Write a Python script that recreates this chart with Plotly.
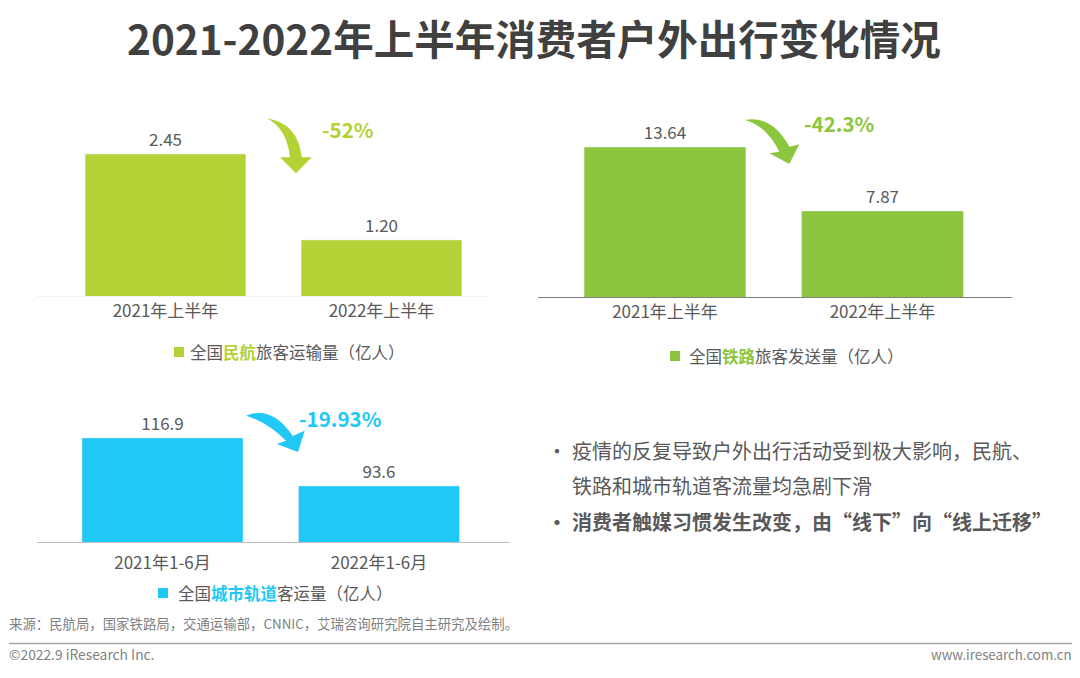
import plotly.graph_objects as go

W = 1080
H = 678
FONT = "Noto Sans CJK SC"
GREY = "#595959"

air_labels = ["2021年上半年", "2022年上半年"]
air_values = [2.45, 1.20]
rail_labels = ["2021年上半年", "2022年上半年"]
rail_values = [13.64, 7.87]
metro_labels = ["2021年1-6月", "2022年1-6月"]
metro_values = [116.9, 93.6]

air_color = "#B2D235"
rail_color = "#8CC63F"
metro_color = "#1FC8F5"

air_name = "全国<b><span style='color:#B2D235'>民航</span></b>旅客运输量（亿人）"
rail_name = "全国<b><span style='color:#8CC63F'>铁路</span></b>旅客发送量（亿人）"
metro_name = "全国<b><span style='color:#1FC8F5'>城市轨道</span></b>客运量（亿人）"


def px(x):
    return x / W


def py(y):
    return 1 - y / H


def arrow(p, color):
    # p = start, outer ctrl, outer end, head right, tip, head left, inner start, inner ctrl
    s = [f"{px(a)},{py(b)}" for a, b in p]
    path = f"M {s[0]} Q {s[1]} {s[2]} L {s[3]} L {s[4]} L {s[5]} L {s[6]} Q {s[7]} {s[0]} Z"
    return dict(type="path", path=path, xref="paper", yref="paper", fillcolor=color, line_width=0)


def square(x, y, color):
    return dict(type="rect", xref="paper", yref="paper", x0=px(x), x1=px(x + 10), y0=py(y - 5), y1=py(y + 5),
                fillcolor=color, line_width=0)


fig = go.Figure()

# suffix, labels, values, colour, first bar centre, category step, axis x span, axis y span, y range, line colour, tick standoff, number format
panels = [
    ("", air_labels, air_values, air_color, 165.5, 216, (37, 490), (296, 90), (0.386, 3.38), "#F2F2F2", 0, "{:.2f}"),
    ("2", rail_labels, rail_values, rail_color, 665, 217.5, (538, 1012), (297, 90), (0.114, 18.78), "#7F7F7F", 0, "{:.2f}"),
    ("3", metro_labels, metro_values, metro_color, 162.5, 216.5, (37, 510), (542, 400), (66.4, 135.3), "#BFBFBF", 6, "{:.1f}"),
]

for suffix, labels, values, color, c0, step, (x0, x1), (y0, y1), yrange, linecolor, standoff, numfmt in panels:
    fig.add_trace(go.Bar(
        x=labels, y=values, marker_color=color,
        text=[numfmt.format(v) for v in values],
        textposition="outside", cliponaxis=False,
        textfont=dict(size=17, color=GREY, family=FONT),
        xaxis="x" + suffix, yaxis="y" + suffix, showlegend=False,
    ))
    fig.update_layout({
        "xaxis" + suffix: dict(
            domain=[px(x0), px(x1)], anchor="y" + suffix,
            range=[(x0 - c0) / step, (x1 - c0) / step],
            showline=True, linecolor=linecolor, linewidth=1, ticks="",
            ticklabelstandoff=standoff,
            tickfont=dict(size=17, color=GREY, family=FONT), showgrid=False,
        ),
        "yaxis" + suffix: dict(
            domain=[py(y0), py(y1)], anchor="x" + suffix, range=list(yrange),
            visible=False, showgrid=False,
        ),
    })

shapes = [
    arrow([(266.7, 118.3), (298, 123), (301.7, 157.3), (311.7, 157.3), (296, 173.3), (280, 157.3), (290, 157.3), (286.7, 128)], air_color),
    arrow([(745, 120), (772, 115), (789.3, 146.7), (799.3, 144.3), (789.3, 164), (769.3, 153.3), (779.3, 151.7), (766.7, 126)], rail_color),
    arrow([(246, 415.7), (272, 405), (292.7, 436), (304.7, 430.7), (298, 452), (276.7, 444), (286, 440.7), (266.7, 422)], metro_color),
    square(174, 352, air_color),
    square(670, 356, rail_color),
    square(158, 593, metro_color),
    dict(type="line", xref="paper", yref="paper", x0=px(9), x1=px(1072), y0=py(643.5), y1=py(643.5),
         line=dict(color="#A6A6A6", width=1.5)),
]


def label(x, y, text, size, color=GREY, anchor="left", bold=False):
    fig.add_annotation(
        x=px(x), y=py(y), xref="paper", yref="paper", text=f"<b>{text}</b>" if bold else text,
        showarrow=False, xanchor=anchor, yanchor="middle", align="left",
        font=dict(size=size, color=color, family=FONT),
    )


label(534, 37, "2021-2022年上半年消费者户外出行变化情况", 40.5, "#404040", "center", True)
label(320, 129, "-52%", 20.5, air_color, bold=True)
label(802, 123, "-42.3%", 20.5, rail_color, bold=True)
label(297, 418, "-19.93%", 20.5, metro_color, bold=True)
label(188, 352, air_name, 16.5)
label(687, 356, rail_name, 16.5)
label(176, 593, metro_name, 16.5)
label(545, 450, "•", 20)
label(570, 450, "疫情的反复导致户外出行活动受到极大影响，民航、", 20)
label(570, 485, "铁路和城市轨道客流量均急剧下滑", 20)
label(545, 521, "•", 20, bold=True)
label(570, 521, "消费者触媒习惯发生改变，由“线下”向“线上迁移”", 20, bold=True)
label(7, 623, "来源：民航局，国家铁路局，交通运输部，CNNIC，艾瑞咨询研究院自主研究及绘制。", 13.4, "#7F7F7F")
label(7, 654, "©2022.9 iResearch Inc.", 13.8, "#7F7F7F")
label(1074, 654, "www.iresearch.com.cn", 13.3, "#7F7F7F", "right")

fig.update_layout(
    width=W, height=H, margin=dict(l=0, r=0, t=0, b=0),
    paper_bgcolor="white", plot_bgcolor="white", shapes=shapes,
    bargap=0.256, font=dict(family=FONT),
)

fig.write_html("out.html", post_script="document.body.style.margin='0';", config={"displayModeBar": False})
